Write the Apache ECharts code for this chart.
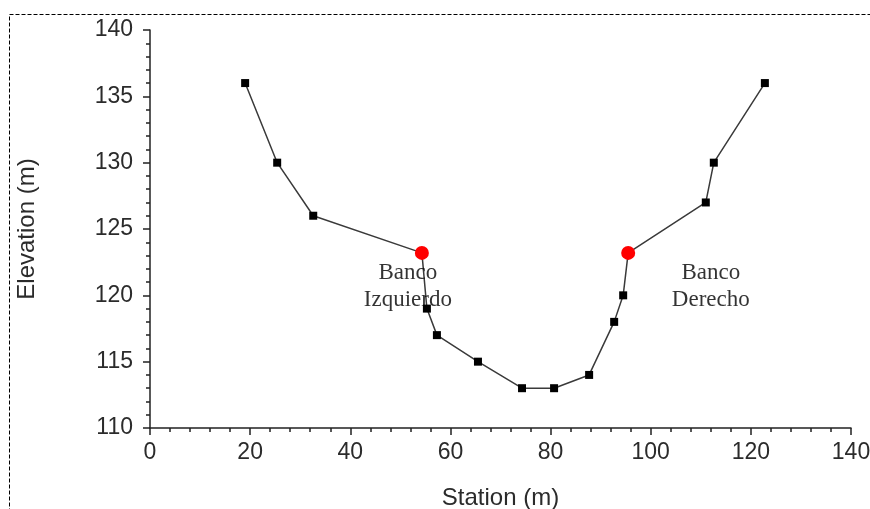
<!DOCTYPE html>
<html>
<head>
<meta charset="utf-8">
<script src="https://cdn.jsdelivr.net/npm/echarts@6/dist/echarts.min.js"></script>
<style>html,body{margin:0;padding:0;background:#fff;}#c{width:870px;height:509px;}</style>
</head>
<body>
<div id="c"></div>
<script>
// Cross-section data
var station   = [19, 25.4, 32.6, 54.3, 55.3, 57.3, 65.5, 74.3, 80.7, 87.7, 92.7, 94.5, 95.5, 111.0, 112.6, 122.8];
var elevation = [136, 130, 126, 123.2, 119, 117, 115, 113, 113, 114, 118, 120, 123.2, 127, 130, 136];
// Bank stations (red markers)
var bankStation   = [54.3, 95.5];
var bankElevation = [123.2, 123.2];
// Annotations
var annotText      = ['Banco\nIzquierdo', 'Banco\nDerecho'];
var annotStation   = [51.5, 112.0];
var annotElevation = [120.7, 120.7];
// Axes
var xTicks = [0, 20, 40, 60, 80, 100, 120, 140];
var yTicks = [110, 115, 120, 125, 130, 135, 140];

var chart = echarts.init(document.getElementById('c'));
var axisFont = 'Liberation Sans, Arial, sans-serif';
var txt = '#2b2b2b';

function pairs(xs, ys){ return xs.map(function(x,i){ return [x, ys[i]]; }); }

chart.setOption({
  backgroundColor: '#fff',
  animation: false,
  graphic: [{
    type: 'rect',
    shape: {x: 9.5, y: 14.5, width: 900, height: 600},
    style: {fill: 'none', stroke: '#000', lineWidth: 1, lineDash: [4, 2]},
    silent: true, z: 0
  }],
  grid: {left: 150, right: 19, top: 30, bottom: 81, containLabel: false, outerBoundsMode: 'none'},
  xAxis: {
    type: 'value', min: xTicks[0], max: xTicks[xTicks.length-1], interval: 20,
    name: 'Station (m)', nameLocation: 'middle', nameGap: 58,
    nameTextStyle: {fontFamily: axisFont, fontSize: 24, color: txt},
    axisLine: {show: true, onZero: false, lineStyle: {color: '#222', width: 1.5}},
    axisTick: {show: true, inside: false, length: 7, lineStyle: {color: '#222', width: 1.5}},
    minorTick: {show: true, splitNumber: 5, length: 4, lineStyle: {color: '#222', width: 1.5}},
    splitLine: {show: false},
    axisLabel: {fontFamily: axisFont, fontSize: 23, color: txt, margin: 13, hideOverlap: false}
  },
  yAxis: {
    type: 'value', min: yTicks[0], max: yTicks[yTicks.length-1], interval: 5,
    name: 'Elevation (m)', nameLocation: 'middle', nameGap: 111,
    nameTextStyle: {fontFamily: axisFont, fontSize: 24, color: txt},
    axisLine: {show: true, onZero: false, lineStyle: {color: '#222', width: 1.5}},
    axisTick: {show: true, inside: false, length: 7, lineStyle: {color: '#222', width: 1.5}},
    minorTick: {show: true, splitNumber: 5, length: 4, lineStyle: {color: '#222', width: 1.5}},
    splitLine: {show: false},
    axisLabel: {fontFamily: axisFont, fontSize: 23, color: txt, margin: 17}
  },
  series: [
    {
      type: 'line', data: pairs(station, elevation),
      symbol: 'rect', symbolSize: 8, showAllSymbol: true,
      lineStyle: {color: '#3a3a3a', width: 1.5},
      itemStyle: {color: '#000'},
      z: 2
    },
    {
      type: 'scatter', data: pairs(bankStation, bankElevation),
      symbol: 'circle', symbolSize: 14,
      itemStyle: {color: '#ff0000', opacity: 1}, z: 3
    },
    {
      type: 'scatter', data: pairs(annotStation, annotElevation).map(function(p, i){
        return {value: p, label: {formatter: annotText[i]}};
      }),
      symbolSize: 0,
      label: {show: true, position: 'inside', fontFamily: 'Liberation Serif, Times New Roman, serif',
              fontSize: 23, lineHeight: 27, color: '#000', align: 'center', verticalAlign: 'middle'},
      z: 4, silent: true
    }
  ]
});
</script>
</body>
</html>
